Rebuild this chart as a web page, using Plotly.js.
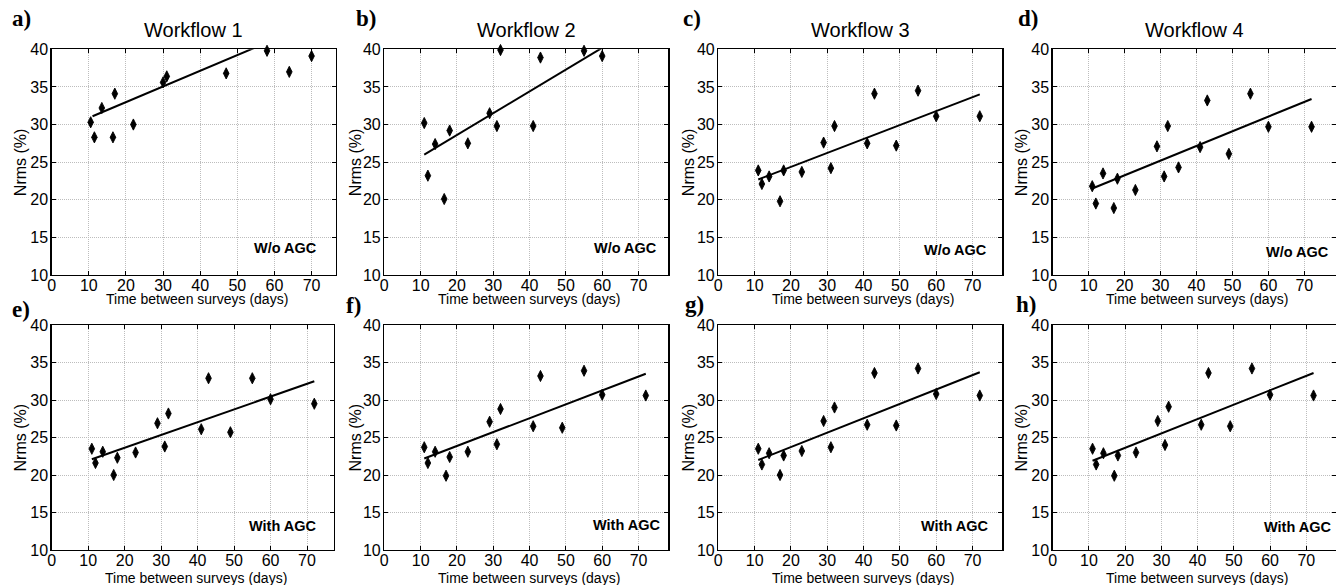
<!DOCTYPE html>
<html><head><meta charset="utf-8">
<script src="https://cdn.plot.ly/plotly-3.0.1.min.js"></script>
<style>html,body{margin:0;padding:0;background:#fff;overflow:hidden}</style>
</head><body><div id="chart" style="width:1336px;height:585px"></div>
<script>
// ---------------- data ----------------
const panelLabels = ['a)','b)','c)','d)','e)','f)','g)','h)'];
const workflowTitles = ['Workflow 1','Workflow 2','Workflow 3','Workflow 4'];
const agcLabels = ['W/o AGC','W/o AGC','W/o AGC','W/o AGC','With AGC','With AGC','With AGC','With AGC'];
const xTitleText = 'Time between surveys (days)';
const yTitleText = 'Nrms (%)';
const xTickVals = [0,10,20,30,40,50,60,70];
const yTickVals = [10,15,20,25,30,35,40];

// a) Workflow 1, without AGC
const daysA = [10.5, 11.5, 13.5, 16.5, 17, 22, 30, 31, 47, 58, 64, 70];
const nrmsA = [30.3, 28.3, 32.2, 28.3, 34.1, 30.0, 35.6, 36.4, 36.8, 39.8, 37.0, 39.1];
const fitDaysA = [11, 70];
const fitNrmsA = [31.1, 43.4];
// b) Workflow 2, without AGC
const daysB = [11, 12, 14, 16.5, 18, 23, 29, 31, 32, 41, 43, 55, 60];
const nrmsB = [30.2, 23.2, 27.4, 20.1, 29.2, 27.5, 31.5, 29.8, 39.9, 29.8, 38.9, 39.8, 39.1];
const fitDaysB = [11, 60];
const fitNrmsB = [26.0, 40.2];
// c) Workflow 3, without AGC
const daysC = [11, 12, 14, 17, 18, 23, 29, 31, 32, 41, 43, 49, 55, 60, 72];
const nrmsC = [23.9, 22.1, 23.1, 19.8, 23.9, 23.7, 27.6, 24.2, 29.8, 27.5, 34.1, 27.2, 34.5, 31.1, 31.1];
const fitDaysC = [11, 72];
const fitNrmsC = [22.7, 34.0];
// d) Workflow 4, without AGC
const daysD = [11, 12, 14, 17, 18, 23, 29, 31, 32, 35, 41, 43, 49, 55, 60, 72];
const nrmsD = [21.8, 19.5, 23.5, 18.9, 22.8, 21.3, 27.1, 23.1, 29.8, 24.3, 27.0, 33.2, 26.1, 34.1, 29.7, 29.7];
const fitDaysD = [11, 72];
const fitNrmsD = [21.5, 33.4];
// e) Workflow 1, with AGC
const daysE = [11, 12, 14, 17, 18, 23, 29, 31, 32, 41, 43, 49, 55, 60, 72];
const nrmsE = [23.5, 21.6, 23.1, 20.0, 22.3, 23.0, 26.9, 23.8, 28.2, 26.1, 32.9, 25.7, 32.9, 30.1, 29.5];
const fitDaysE = [11, 72];
const fitNrmsE = [22.1, 32.5];
// f) Workflow 2, with AGC
const daysF = [11, 12, 14, 17, 18, 23, 29, 31, 32, 41, 43, 49, 55, 60, 72];
const nrmsF = [23.7, 21.6, 23.1, 19.9, 22.4, 23.1, 27.1, 24.1, 28.8, 26.5, 33.2, 26.3, 33.9, 30.7, 30.6];
const fitDaysF = [11, 72];
const fitNrmsF = [22.2, 33.5];
// g) Workflow 3, with AGC
const daysG = [11, 12, 14, 17, 18, 23, 29, 31, 32, 41, 43, 49, 55, 60, 72];
const nrmsG = [23.5, 21.4, 22.9, 20.0, 22.6, 23.2, 27.2, 23.7, 29.0, 26.7, 33.6, 26.6, 34.2, 30.8, 30.6];
const fitDaysG = [11, 72];
const fitNrmsG = [22.0, 33.7];
// h) Workflow 4, with AGC
const daysH = [11, 12, 14, 17, 18, 23, 29, 31, 32, 41, 43, 49, 55, 60, 72];
const nrmsH = [23.5, 21.4, 22.9, 19.9, 22.6, 23.0, 27.2, 24.0, 29.1, 26.7, 33.6, 26.5, 34.2, 30.7, 30.6];
const fitDaysH = [11, 72];
const fitNrmsH = [21.9, 33.6];

// ---------------- layout geometry (pixels) ----------------
const W = 1336, H = 585;
const panelBoxes = [
  {l:51.7, r:335.7, t:49.3, b:275, xmax:76.5},
  {l:384.3, r:668.3, t:49.3, b:275, xmax:78.2},
  {l:718.3, r:1002.3, t:49.3, b:275, xmax:78.2},
  {l:1052.7, r:1336, t:49.3, b:275, xmax:78.8},
  {l:51.7, r:334, t:325, b:550, xmax:77.4},
  {l:384.3, r:668.3, t:325, b:550, xmax:78.2},
  {l:718.3, r:1002.3, t:325, b:550, xmax:78.2},
  {l:1052.7, r:1336, t:325, b:550, xmax:78.2}
];
const labelPos = [[11,19],[355,19],[682,19],[1017,19],[11,309],[345,305],[684,304],[1015,304]];
const yTitleX = [20,355,688,1021,20,355,688,1021];
const agcPos = [[319,248],[659,248],[989,250],[1331,251.7],[319,526],[663,525],[991,526],[1334,527]];

const series = [
  [daysA,nrmsA,fitDaysA,fitNrmsA],[daysB,nrmsB,fitDaysB,fitNrmsB],
  [daysC,nrmsC,fitDaysC,fitNrmsC],[daysD,nrmsD,fitDaysD,fitNrmsD],
  [daysE,nrmsE,fitDaysE,fitNrmsE],[daysF,nrmsF,fitDaysF,fitNrmsF],
  [daysG,nrmsG,fitDaysG,fitNrmsG],[daysH,nrmsH,fitDaysH,fitNrmsH]
];

const FONT = 'Liberation Sans, Arial, sans-serif';
const px = v => v / W, py = v => 1 - v / H;

const traces = [];
const layout = {
  width: W, height: H,
  margin: {l:0, r:0, t:0, b:0},
  paper_bgcolor: '#fff', plot_bgcolor: '#fff',
  showlegend: false,
  font: {family: FONT, color: '#000'},
  annotations: []
};

series.forEach((s, i) => {
  const n = i + 1;
  const xa = 'x' + (n === 1 ? '' : n), ya = 'y' + (n === 1 ? '' : n);
  const box = panelBoxes[i];
  traces.push({
    x: s[2], y: s[3], xaxis: xa, yaxis: ya, type: 'scatter', mode: 'lines',
    line: {color: '#000', width: 2}, hoverinfo: 'skip'
  });
  traces.push({
    x: s[0], y: s[1], xaxis: xa, yaxis: ya, type: 'scatter', mode: 'markers',
    cliponaxis: false,
    marker: {symbol: 'diamond-tall', size: 8, color: '#000', line: {width: 0.9, color: '#000'}}
  });
  const common = {
    showline: true, linecolor: '#000', linewidth: 1.4, mirror: 'ticks',
    ticks: 'inside', ticklen: 4, tickwidth: 1, tickcolor: '#000',
    showgrid: true, gridcolor: '#bdbdbd', griddash: '1px,1px', gridwidth: 1,
    zeroline: false, fixedrange: true,
    tickfont: {family: FONT, size: 16, color: '#000'}
  };
  layout['xaxis' + (n === 1 ? '' : n)] = Object.assign({}, common, {
    domain: [px(box.l), px(box.r)], anchor: ya, range: [0, box.xmax],
    tickvals: xTickVals, ticklabelstandoff: -5
  });
  layout['yaxis' + (n === 1 ? '' : n)] = Object.assign({}, common, {
    domain: [py(box.b), py(box.t)], anchor: xa, range: [10, 40],
    tickvals: yTickVals, ticklabelstandoff: -1
  });
  // panel letter
  layout.annotations.push({
    text: '<b>' + panelLabels[i] + '</b>', xref: 'paper', yref: 'paper',
    x: px(labelPos[i][0]), y: py(labelPos[i][1]), xanchor: 'left', yanchor: 'middle',
    showarrow: false, borderpad: 0,
    font: {family: 'Liberation Serif, Times New Roman, serif', size: 23, color: '#000'}
  });
  // workflow title (top row)
  if (i < 4) {
    layout.annotations.push({
      text: workflowTitles[i], xref: 'paper', yref: 'paper',
      x: px((box.l + box.r) / 2), y: py(30), xanchor: 'center', yanchor: 'middle',
      showarrow: false, font: {family: FONT, size: 20, color: '#000'}
    });
  }
  // x title
  layout.annotations.push({
    text: xTitleText, xref: 'paper', yref: 'paper',
    x: px((box.l + box.r) / 2 + 3), y: py(i < 4 ? 299 : 578), xanchor: 'center', yanchor: 'middle',
    showarrow: false, borderpad: 0, font: {family: FONT, size: 14, color: '#000'}
  });
  // y title
  layout.annotations.push({
    text: yTitleText, xref: 'paper', yref: 'paper', textangle: -90,
    x: px(yTitleX[i]), y: py((box.t + box.b) / 2), xanchor: 'center', yanchor: 'middle',
    showarrow: false, font: {family: FONT, size: 16, color: '#000'}
  });
  // AGC label
  layout.annotations.push({
    text: '<b>' + agcLabels[i] + '</b>', xref: 'paper', yref: 'paper',
    x: px(agcPos[i][0]), y: py(agcPos[i][1]), xanchor: 'right', yanchor: 'middle',
    showarrow: false, font: {family: FONT, size: 14.5, color: '#000'}
  });
});

Plotly.newPlot('chart', traces, layout, {displayModeBar: false, staticPlot: true});
</script>
</body></html>
